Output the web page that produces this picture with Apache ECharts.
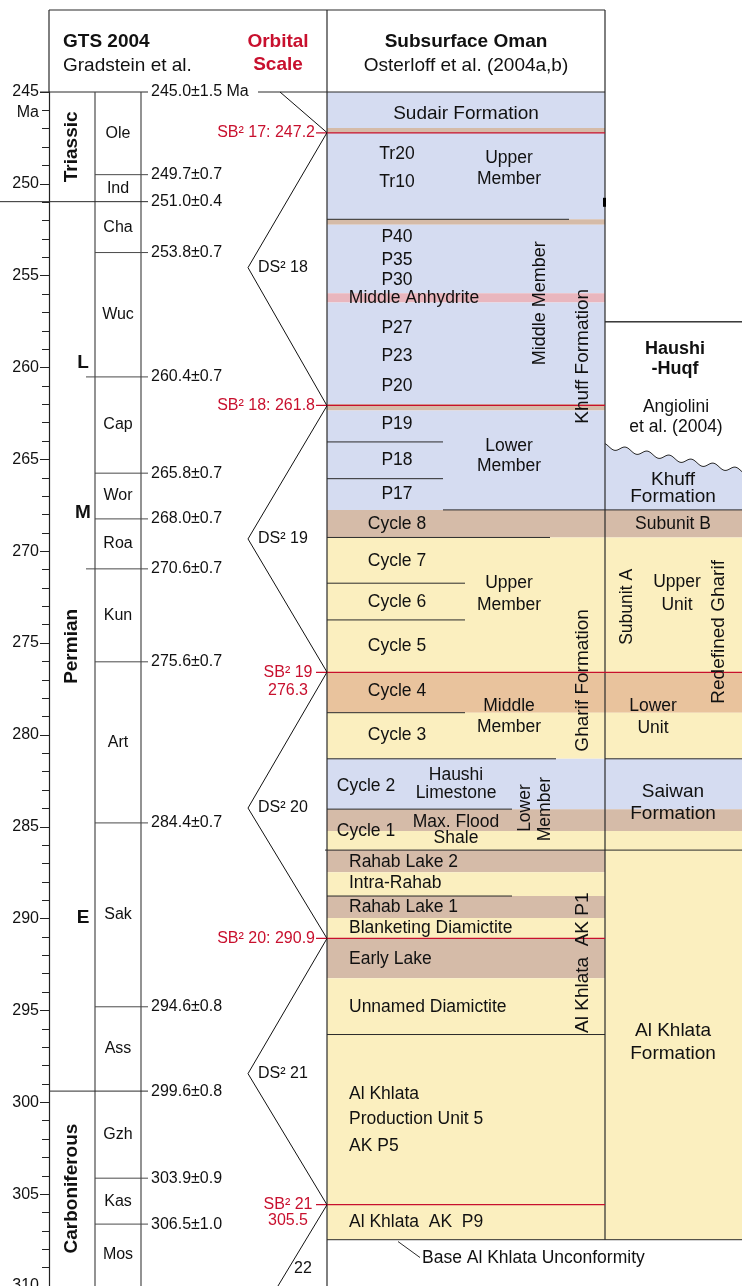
<!DOCTYPE html>
<html><head><meta charset="utf-8">
<script src="https://cdn.jsdelivr.net/npm/echarts@6/dist/echarts.min.js"></script>
<style>html,body{margin:0;padding:0;background:#fff}#c{width:742px;height:1286px}</style>
</head><body><div id="c"></div>
<script>
// ================= DATA (ages in Ma) =================
const periodNames = ['Triassic', 'Permian', 'Carboniferous'];
const periodBounds = [245.0, 250.97, 299.39, 310.0];
const epochNames = ['L', 'M', 'E'];
const epochLabelAges = [259.75, 267.91, 289.97];
const epochBounds = [260.51, 270.96];
const stageNames = ['Ole', 'Ind', 'Cha', 'Wuc', 'Cap', 'Wor', 'Roa', 'Kun', 'Art', 'Sak', 'Ass', 'Gzh', 'Kas', 'Mos'];
const stageBounds = [245.0, 249.5, 250.97, 253.74, 260.51, 265.75, 268.24, 270.96, 276.02, 284.79, 294.80, 299.39, 304.13, 306.63, 310.0];
const boundaryAgeLabels = ['245.0±1.5 Ma', '249.7±0.7', '251.0±0.4', '253.8±0.7', '260.4±0.7', '265.8±0.7', '268.0±0.7', '270.6±0.7', '275.6±0.7', '284.4±0.7', '294.6±0.8', '299.6±0.8', '303.9±0.9', '306.5±1.0'];

const orbitalTurnAges = [245.0, 247.21, 254.56, 262.08, 269.33, 276.58, 283.98, 291.08, 298.44, 305.58, 312.7];
const orbitalTurnKinds = ['start', 'SB', 'DS', 'SB', 'DS', 'SB', 'DS', 'SB', 'DS', 'SB', 'DS'];
const sbAges = [247.23, 262.06, 276.59, 291.08, 305.57];
const sbLabelLines = [['SB² 17: 247.2'], ['SB² 18: 261.8'], ['SB² 19', '276.3'], ['SB² 20: 290.9'], ['SB² 21', '305.5']];
const sbSecondLineAges = [null, null, 277.6, null, 306.43];
const dsLabels = ['DS² 18', 'DS² 19', 'DS² 20', 'DS² 21', '22'];
const dsLabelAges = [254.56, 269.33, 283.98, 298.44, 309.03];

const omanBandTops = [245.0, 246.96, 247.23, 251.93, 252.23, 255.95, 256.46, 261.98, 262.34, 267.75, 269.25, 276.59, 278.79, 281.30, 284.04, 285.23, 286.27, 287.47, 288.77, 289.97, 291.08, 293.24];
const omanBandLith = ['carbonate', 'shale', 'carbonate', 'shale', 'carbonate', 'anhydrite', 'carbonate', 'shale', 'carbonate', 'shale', 'clastic', 'marl', 'clastic', 'carbonate', 'shale', 'clastic', 'shale', 'clastic', 'shale', 'clastic', 'shale', 'clastic'];
const omanBase = 307.48;
const haushiTop = 257.51;
const haushiUnconformity = [264.27, 265.63];
const haushiBandTops = [267.75, 269.25, 276.59, 278.79, 281.30, 284.04, 285.23];
const haushiBandLith = ['shale', 'clastic', 'marl', 'clastic', 'carbonate', 'shale', 'clastic'];
const contactAges = [251.93, 264.05, 266.05, 267.75, 269.25, 271.74, 273.74, 278.79, 281.30, 281.30, 284.04, 286.27, 288.77, 296.31, 307.48, 257.51];

const cycleNames = ['Tr20', 'Tr10', 'P40', 'P35', 'P30', 'P27', 'P23', 'P20', 'P19', 'P18', 'P17', 'Cycle 8', 'Cycle 7', 'Cycle 6', 'Cycle 5', 'Cycle 4', 'Cycle 3'];
const cycleAges = [248.41, 249.93, 252.92, 254.13, 255.22, 257.85, 259.40, 261.0, 263.07, 265.07, 266.88, 268.51, 270.53, 272.76, 275.16, 277.61, 280.0];
const memberNames = ['Upper', 'Member', 'Lower', 'Member', 'Upper', 'Member', 'Middle', 'Member'];
const memberAges = [248.58, 249.72, 264.27, 265.36, 271.72, 272.92, 278.43, 279.57];
const lowerUnitNames = ['Rahab Lake 2', 'Intra-Rahab', 'Rahab Lake 1', 'Blanketing Diamictite', 'Early Lake', 'Unnamed Diamictite', 'Al Khlata', 'Production Unit 5', 'AK P5', 'Al Khlata  AK  P9'];
const lowerUnitAges = [286.94, 288.08, 289.36, 290.53, 292.2, 294.84, 299.58, 300.94, 302.38, 306.51];
const gharifLowerNames = ['Cycle 2', 'Cycle 1'];
const gharifLowerAges = [282.77, 285.22];
const markerNames = ['Haushi', 'Limestone', 'Max. Flood', 'Shale'];
const markerAges = [282.18, 283.16, 284.73, 285.63];
const formationNames = ['Sudair Formation', 'Middle Anhydrite'];
const formationAges = [246.18, 256.22];
const omanVerticalNames = ['Middle Member', 'Khuff Formation', 'Gharif Formation', 'Lower', 'Member', 'Al Khlata  AK P1'];
const omanVerticalAges = [256.5, 259.39, 277.03, 283.98, 284.04, 292.4];
const haushiNames = ['Haushi', '-Huqf', 'Angiolini', 'et al. (2004)', 'Khuff', 'Formation', 'Subunit B', 'Upper', 'Unit', 'Lower', 'Unit', 'Saiwan', 'Formation', 'Al Khlata', 'Formation'];
const haushiAges = [258.97, 260.09, 262.16, 263.25, 266.12, 267.06, 268.51, 271.71, 272.92, 278.44, 279.62, 283.09, 284.31, 296.11, 297.34];
const haushiVerticalNames = ['Subunit A', 'Redefined Gharif'];
const haushiVerticalAges = [273.03, 274.39];
const unconformityNote = 'Base Al Khlata Unconformity';
const unconformityNoteAges = [307.58, 308.45, 308.47];
const axisUnitAge = 246.14;

// ================= STYLE / LAYOUT =================
const FONT = "'Liberation Sans', Arial, Helvetica, sans-serif";
const COL = { line: '#2a2a2a', gts: '#4a4a4a', red: '#c8102e', text: '#111' };
const LITH = { carbonate: '#d5dcf1', shale: '#d5bba8', anhydrite: '#e9b6be', clastic: '#fbefbf', marl: '#e9c39d' };
const X = { left: 0, axis: 49, epoch: 86, period: 95, stage: 141, tickEnd: 148, ageLabel: 151, ageLabelEnd: 258,
  sbTick: 316, dsApex: 248, startApex: 280, omanL: 327, omanR: 605, right: 742 };
const contactSpans = [[327, 569], [327, 443], [327, 443], [443, 742], [327, 550], [327, 465], [327, 465], [327, 465], [327, 556], [605, 742], [327, 512], [325, 742], [327, 512], [327, 605], [327, 742], [605, 742]];
const sbRightEnds = [605, 605, 742, 605, 605];
const memberX = 509, cycleX = 397, lowerX = 349, gharifLowerX = 366, markerX = 456;
const formationX = [466, 414];
const omanVerticalX = [540, 583, 583, 525, 545, 583];
const omanVerticalSize = [18, 19, 19, 17.5, 17.5, 19];
const haushiX = [675, 675, 676, 676, 673, 673, 673, 677, 677, 653, 653, 673, 673, 673, 673];
const haushiSize = [18, 18, 17.5, 17.5, 19, 19, 17.5, 17.5, 17.5, 17.5, 17.5, 19, 19, 19, 19];
const haushiBold = [true, true];
const haushiVerticalX = [627, 719];
const haushiVerticalSize = [17.5, 19];

// ================= BUILD ROWS =================
const rects = [];
omanBandTops.forEach((t, i) => rects.push({ x0: X.omanL, x1: X.omanR, a0: t, a1: i + 1 < omanBandTops.length ? omanBandTops[i + 1] : omanBase, fill: LITH[omanBandLith[i]] }));
haushiBandTops.forEach((t, i) => rects.push({ x0: X.omanR, x1: X.right, a0: t, a1: i + 1 < haushiBandTops.length ? haushiBandTops[i + 1] : omanBase, fill: LITH[haushiBandLith[i]] }));

const lines = [];
function L(x0, a0, x1, a1, color, width) { lines.push({ x0, a0, x1, a1, color, width: width || 1 }); }
// frame
L(40, 245, X.tickEnd, 245, COL.line);
L(X.ageLabelEnd, 245, X.omanR, 245, COL.line);
L(X.period, 245, X.period, 310, COL.gts, 1.2);
L(X.stage, 245, X.stage, 310, COL.gts, 1.2);
L(X.omanL, 245, X.omanL, 310, COL.line, 1.2);
L(X.omanR, 245, X.omanR, omanBase, COL.line, 1.2);
L(604.5, 250.76, 604.5, 251.25, '#000', 3);
// GTS boundaries
stageBounds.forEach((a, i) => {
  if (i === 0 || i === stageBounds.length - 1) return;
  let x0 = X.period;
  if (a === periodBounds[1]) x0 = X.left;
  else if (a === periodBounds[2]) x0 = X.axis;
  else if (epochBounds.indexOf(a) >= 0) x0 = X.epoch;
  L(x0, a, X.tickEnd, a, a === periodBounds[1] || a === periodBounds[2] ? COL.line : COL.gts);
});
// lithological contacts
contactAges.forEach((a, i) => L(contactSpans[i][0], a, contactSpans[i][1], a, COL.line));
// sequence boundaries (red)
sbAges.forEach((a, i) => L(X.sbTick, a, sbRightEnds[i], a, COL.red, 1.2));
// leader of the unconformity note
L(398, unconformityNoteAges[0], 420, unconformityNoteAges[1], COL.line);

const texts = [];
function place(names, ages, x, o) {
  names.forEach((n, i) => texts.push(Object.assign({ text: n, age: ages[i], x: Array.isArray(x) ? x[i] : x }, o || {},
    { size: o && Array.isArray(o.size) ? o.size[i] : (o && o.size) || 17.5, bold: o && Array.isArray(o.bold) ? !!o.bold[i] : !!(o && o.bold) })));
}
place(periodNames, periodNames.map((_, i) => (periodBounds[i] + periodBounds[i + 1]) / 2), 72, { size: 19, bold: true, rot: Math.PI / 2 });
place(epochNames, epochLabelAges, 83, { size: 19, bold: true });
place(stageNames, stageNames.map((_, i) => (stageBounds[i] + stageBounds[i + 1]) / 2), 118, { size: 16 });
place(boundaryAgeLabels, stageBounds.slice(0, boundaryAgeLabels.length), X.ageLabel, { size: 16, align: 'left' });
place(['Ma'], [axisUnitAge], 39, { size: 16, align: 'right' });
sbLabelLines.forEach((ln, i) => {
  if (ln.length === 1) place(ln, [sbAges[i]], 315, { size: 16, align: 'right', color: COL.red });
  else place(ln, [sbAges[i], sbSecondLineAges[i]], 288, { size: 16, color: COL.red });
});
dsLabels.forEach((t, i) => place([t], [dsLabelAges[i]], i < 4 ? 258 : 294, { size: 16, align: 'left' }));
place(formationNames, formationAges, formationX, { size: [19, 17.5] });
place(cycleNames, cycleAges, cycleX, { size: 17.5 });
place(memberNames, memberAges, memberX, { size: 17.5 });
place(lowerUnitNames, lowerUnitAges, lowerX, { size: 17.5, align: 'left' });
place(gharifLowerNames, gharifLowerAges, gharifLowerX, { size: 17.5 });
place(markerNames, markerAges, markerX, { size: 17.5 });
place(omanVerticalNames, omanVerticalAges, omanVerticalX, { size: omanVerticalSize, rot: Math.PI / 2 });
place(haushiNames, haushiAges, haushiX, { size: haushiSize, bold: haushiBold });
place(haushiVerticalNames, haushiVerticalAges, haushiVerticalX, { size: haushiVerticalSize, rot: Math.PI / 2 });
place([unconformityNote], [unconformityNoteAges[2]], 422, { size: 17.5, align: 'left' });

// ================= RENDERERS =================
function custom(z, rows, valueOf, render) {
  return { type: 'custom', coordinateSystem: 'cartesian2d', z, silent: true, clip: false,
    encode: { x: 0, y: 1 }, data: rows.map(valueOf),
    renderItem: (params, api) => render(rows[params.dataIndex], api) };
}
function textEl(api, r) {
  const p = api.coord([r.x, r.age]);
  const font = (r.bold ? 'bold ' : '') + r.size + 'px ' + FONT;
  const al = r.align || 'center';
  return { type: 'text', x: p[0], y: p[1], rotation: r.rot || 0,
    style: { text: r.text, font, fill: r.color || COL.text, textAlign: al, textVerticalAlign: 'middle', align: al, verticalAlign: 'middle' } };
}

const bandSeries = custom(1, rects, r => [r.x0, r.a0], (r, api) => {
  const p = api.coord([r.x0, r.a0]), q = api.coord([r.x1, r.a1]);
  return { type: 'rect', shape: { x: p[0], y: p[1], width: q[0] - p[0], height: q[1] - p[1] }, style: { fill: r.fill } };
});

const khuffWavy = custom(1, [{}], () => [X.omanR, haushiUnconformity[0]], (r, api) => {
  const top = [];
  for (let x = X.omanR; x <= X.right; x += 1) {
    const t = (x - X.omanR) / (X.right - X.omanR);
    const p = api.coord([x, haushiUnconformity[0] + t * (haushiUnconformity[1] - haushiUnconformity[0])]);
    top.push([p[0], p[1] + 2.6 * Math.sin((x - X.omanR - 4) / 22 * 2 * Math.PI)]);
  }
  const br = api.coord([X.right, haushiBandTops[0]]), bl = api.coord([X.omanR, haushiBandTops[0]]);
  return { type: 'group', children: [
    { type: 'polygon', shape: { points: top.concat([br, bl]) }, style: { fill: LITH.carbonate } },
    { type: 'polyline', shape: { points: top }, style: { stroke: COL.line, lineWidth: 1, fill: null } }
  ] };
});

const haushiTopLine = { x0: X.omanR, a0: haushiTop, x1: X.right, a1: haushiTop };

const lineSeries = custom(3, lines, r => [r.x0, r.a0], (r, api) => {
  const p = api.coord([r.x0, r.a0]), q = api.coord([r.x1, r.a1]);
  return { type: 'line', shape: { x1: p[0], y1: p[1], x2: q[0], y2: q[1] }, style: { stroke: r.color, lineWidth: r.width } };
});

const orbitalSeries = custom(3, [{}], () => [X.omanL, orbitalTurnAges[0]], (r, api) => {
  const xFor = { start: X.startApex, SB: X.omanL, DS: X.dsApex };
  const pts = orbitalTurnAges.map((a, i) => api.coord([xFor[orbitalTurnKinds[i]], a]));
  return { type: 'polyline', shape: { points: pts }, style: { stroke: '#111', lineWidth: 1, fill: null } };
});

const textSeries = custom(5, texts, r => [r.x, r.age], (r, api) => textEl(api, r));

// ================= HEADER (layout, not data) =================
function gText(x, y, text, o) {
  return { type: 'text', x, y, silent: true, style: { text, font: (o.bold ? 'bold ' : '') + (o.size || 19) + 'px ' + FONT,
    fill: o.color || COL.text, textAlign: o.align || 'left', textVerticalAlign: 'middle', align: o.align || 'left', verticalAlign: 'middle' } };
}
function gLine(x1, y1, x2, y2) { return { type: 'line', silent: true, shape: { x1, y1, x2, y2 }, style: { stroke: COL.line, lineWidth: 1.2 } }; }
const header = [
  gLine(49, 10, 605, 10), gLine(49, 10, 49, 92), gLine(327, 10, 327, 92), gLine(605, 10, 605, 92),
  gText(63, 42, 'GTS 2004', { bold: true }), gText(63, 66, 'Gradstein et al.', {}),
  gText(278, 42, 'Orbital', { bold: true, align: 'center', color: COL.red }), gText(278, 65, 'Scale', { bold: true, align: 'center', color: COL.red }),
  gText(466, 42, 'Subsurface Oman', { bold: true, align: 'center' }), gText(466, 66, 'Osterloff et al. (2004a,b)', { align: 'center' })
];

const chart = echarts.init(document.getElementById('c'), null, { renderer: 'canvas' });
chart.setOption({
  animation: false,
  backgroundColor: '#fff',
  grid: { left: 49, right: 0, top: 92, bottom: 0, containLabel: false, outerBoundsMode: 'none' },
  xAxis: { type: 'value', min: 49, max: 742, show: false },
  yAxis: { type: 'value', inverse: true, min: 245, max: 310, interval: 5,
    axisLine: { show: true, onZero: false, lineStyle: { color: '#222', width: 1.2 } },
    axisTick: { show: true, length: 9, lineStyle: { color: '#222' } },
    minorTick: { show: true, splitNumber: 5, length: 7, lineStyle: { color: '#222' } },
    axisLabel: { show: true, margin: 10, fontSize: 16, color: '#111', fontFamily: FONT, showMinLabel: true, showMaxLabel: true },
    splitLine: { show: false }, minorSplitLine: { show: false } },
  graphic: header,
  series: [
    bandSeries, khuffWavy,
    custom(3, [haushiTopLine], r => [r.x0, r.a0], (r, api) => {
      const p = api.coord([r.x0, r.a0]), q = api.coord([r.x1, r.a1]);
      return { type: 'line', shape: { x1: p[0], y1: p[1], x2: q[0], y2: q[1] }, style: { stroke: COL.line, lineWidth: 1 } };
    }),
    lineSeries, orbitalSeries, textSeries
  ]
});
</script>
</body></html>
